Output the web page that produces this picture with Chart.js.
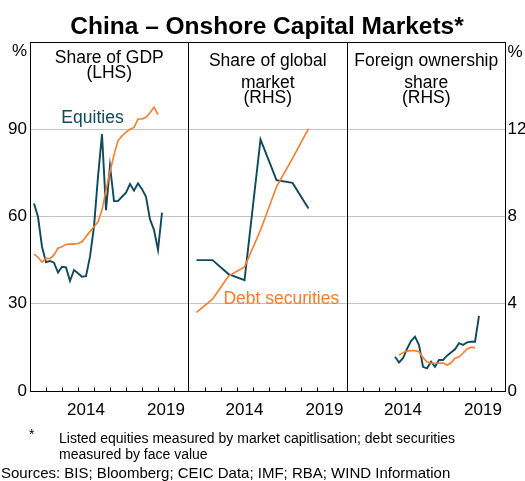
<!DOCTYPE html>
<html>
<head>
<meta charset="utf-8">
<title>China – Onshore Capital Markets</title>
<script src="https://cdn.jsdelivr.net/npm/chart.js@4.4.1/dist/chart.umd.min.js"></script>
<style>
  html, body { margin: 0; padding: 0; background: #ffffff; }
  #wrap { width: 525px; height: 481px; position: relative; }
</style>
</head>
<body>
<div id="wrap"><canvas id="chart" width="525" height="481"></canvas></div>
<script>
// ---- data -------------------------------------------------------------
const PANEL_START = 2011;      // each panel runs from Jan 2011 ...
const PANEL_SPAN = 9.906;      // ... to late 2020 (years)
const X_LABEL_YEARS = [2014, 2019];
const X_TICK_YEARS = [2012, 2013, 2014, 2015, 2016, 2017, 2018, 2019, 2020];
const LHS_TICKS = [0, 30, 60, 90];
const RHS_TICKS = [0, 4, 8, 12];

// Panel 1: share of GDP (%), quarterly
const gdpEquitiesQuarters = ['2011Q1', '2019Q1'];
const gdpEquities = [64.5, 59.9, 49.6, 44.3, 44.7, 44.1, 40.7, 42.7, 42.5, 37.8, 41.6,
  40.5, 39.3, 39.5, 46.2, 56.5, 73.7, 88.3, 62.2, 77.4, 65.3, 65.3, 66.8, 68.2, 71.2,
  68.9, 71.4, 69.4, 66.8, 59.0, 55.4, 48.5, 61.3];
const gdpDebtQuarters = ['2011Q1', '2018Q4'];
const gdpDebt = [47.1, 46.0, 44.3, 45.7, 45.5, 46.8, 49.1, 49.6, 50.4, 50.5, 50.5,
  50.7, 51.3, 53.1, 54.8, 56.5, 58.2, 62.2, 69.1, 75.4, 81.2, 86.1, 87.7, 89.0, 90.0,
  90.6, 93.5, 93.5, 94.1, 95.7, 97.6, 95.0];

// Panel 2: share of global market (%), annual
const globalYears = [2011, 2012, 2013, 2014, 2015, 2016, 2017, 2018];
const globalEquities = [6.0, 6.0, 5.36, 5.08, 11.53, 9.67, 9.54, 8.37];
const globalDebt = [3.6, 4.21, 5.27, 5.69, 7.37, 9.36, 10.66, 12.03];

// Panel 3: foreign ownership share (%), quarterly
const foreignEquitiesQuarters = ['2013Q4', '2019Q1'];
const foreignEquities = [1.57, 1.31, 1.50, 1.93, 2.29, 2.49, 2.11, 1.11, 1.04, 1.34, 1.11,
  1.42, 1.42, 1.62, 1.76, 1.91, 2.19, 2.11, 2.23, 2.26, 2.26, 3.44];
const foreignDebtQuarters = ['2014Q1', '2018Q4'];
const foreignDebt = [1.65, 1.76, 1.83, 1.85, 1.85, 1.80, 1.53, 1.34, 1.27, 1.27, 1.27,
  1.28, 1.19, 1.28, 1.50, 1.57, 1.73, 1.93, 2.00, 1.99];

// ---- helpers ----------------------------------------------------------
const FONT = '"Liberation Sans", Arial, Helvetica, sans-serif';
const TEAL = '#0d4a5c';
const ORANGE = '#ff7a26';
const GRID = '#c4c4c4';

// quarter label -> decimal year at the end of the quarter
function quarterEnd(q) {
  const y = parseInt(q.slice(0, 4), 10);
  const n = parseInt(q.slice(5), 10);
  return y + n / 4;
}
// panel-relative x position of a date
function panelX(date, panel) {
  return (date - PANEL_START) + panel * PANEL_SPAN;
}
function quarterlyPoints(range, values, panel) {
  const start = quarterEnd(range[0]);
  return values.map((v, i) => ({ x: panelX(start + i * 0.25, panel), y: v }));
}
function annualPoints(years, values, panel) {
  return values.map((v, i) => ({ x: panelX(years[i] + 0.5, panel), y: v }));
}

function series(data, color, width, axis) {
  return {
    data, yAxisID: axis, borderColor: color, backgroundColor: color,
    borderWidth: width, pointRadius: 0, tension: 0, fill: false, spanGaps: false
  };
}

const datasets = [
  series(quarterlyPoints(gdpDebtQuarters, gdpDebt, 0), ORANGE, 1.6, 'yL'),
  series(quarterlyPoints(gdpEquitiesQuarters, gdpEquities, 0), TEAL, 1.9, 'yL'),
  series(annualPoints(globalYears, globalDebt, 1), ORANGE, 1.6, 'yR'),
  series(annualPoints(globalYears, globalEquities, 1), TEAL, 1.9, 'yR'),
  series(quarterlyPoints(foreignDebtQuarters, foreignDebt, 2), ORANGE, 1.6, 'yR'),
  series(quarterlyPoints(foreignEquitiesQuarters, foreignEquities, 2), TEAL, 1.9, 'yR')
];

// frame, panel dividers, inward year ticks and annotation text
const panelDecor = {
  id: 'panelDecor',
  afterDatasetsDraw(chart) {
    const { ctx, chartArea: ca, scales } = chart;
    const xs = scales.x;
    const L = Math.floor(ca.left) + 0.5, R = Math.floor(ca.right) + 0.5;
    const T = Math.floor(ca.top) + 0.5, B = Math.floor(ca.bottom) + 0.5;
    ctx.save();
    ctx.strokeStyle = '#000';
    ctx.lineWidth = 1;
    ctx.strokeRect(L, T, R - L, B - T);
    ctx.beginPath();
    for (let p = 1; p < 3; p++) {
      const x = Math.floor(xs.getPixelForValue(p * PANEL_SPAN)) + 0.5;
      ctx.moveTo(x, T); ctx.lineTo(x, B);
    }
    for (let p = 0; p < 3; p++) {
      X_TICK_YEARS.forEach(y => {
        const x = Math.round(xs.getPixelForValue(panelX(y, p))) + 0.5;
        ctx.moveTo(x, B); ctx.lineTo(x, B - 4);
      });
    }
    ctx.stroke();

    const text = (s, x, y, opts = {}) => {
      ctx.font = (opts.weight || '') + ' ' + (opts.size || 17.5) + 'px ' + FONT;
      ctx.fillStyle = opts.color || '#000';
      ctx.textAlign = opts.align || 'center';
      ctx.textBaseline = 'alphabetic';
      ctx.fillText(s, x, y);
    };
    const cx = p => (xs.getPixelForValue(p * PANEL_SPAN) + xs.getPixelForValue((p + 1) * PANEL_SPAN)) / 2;

    text('China – Onshore Capital Markets*', 267, 34, { weight: 'bold', size: 24.5 });
    text('%', 19.5, 55.5, { size: 17 });
    text('%', 515, 56.5, { size: 17 });

    text('Share of GDP', cx(0), 63);
    text('(LHS)', cx(0), 78);
    text('Share of global', cx(1), 66);
    text('market', cx(1), 88);
    text('(RHS)', cx(1), 102.5);
    text('Foreign ownership', cx(2), 66);
    text('share', cx(2), 88);
    text('(RHS)', cx(2), 102.5);

    text('Equities', 92.5, 122.5, { color: TEAL });
    text('Debt securities', 281.3, 303.5, { color: ORANGE });

    text('*', 29, 439, { size: 14, align: 'left' });
    text('Listed equities measured by market capitlisation; debt securities', 59, 443, { size: 14, align: 'left' });
    text('measured by face value', 59, 459, { size: 14, align: 'left' });
    text('Sources: BIS; Bloomberg; CEIC Data; IMF; RBA; WIND Information', 1, 478, { size: 15, align: 'left' });
    ctx.restore();
  }
};

const tickFont = { family: FONT, size: 17 };

new Chart(document.getElementById('chart'), {
  type: 'line',
  data: { datasets },
  options: {
    responsive: false,
    animation: false,
    devicePixelRatio: 1,
    layout: { padding: { top: 42, left: 0, right: 0, bottom: 0 } },
    plugins: { legend: { display: false }, tooltip: { enabled: false }, title: { display: false } },
    scales: {
      x: {
        type: 'linear', position: 'bottom', min: 0, max: 3 * PANEL_SPAN,
        grid: { display: false, drawTicks: false },
        border: { display: false },
        afterBuildTicks(scale) {
          const t = [];
          for (let p = 0; p < 3; p++) X_LABEL_YEARS.forEach(y => t.push({ value: panelX(y + 0.5, p) }));
          scale.ticks = t;
        },
        ticks: {
          autoSkip: false, maxRotation: 0, padding: 9, color: '#000', font: tickFont,
          callback(value) {
            const within = ((value % PANEL_SPAN) + PANEL_SPAN) % PANEL_SPAN;
            return String(Math.floor(PANEL_START + within + 1e-6));
          }
        },
        afterFit(scale) { scale.height = 90; }
      },
      yL: {
        type: 'linear', position: 'left', min: 0, max: 120,
        grid: { color: GRID, lineWidth: 1, drawTicks: false },
        border: { display: false },
        afterBuildTicks(scale) { scale.ticks = LHS_TICKS.concat([120]).map(v => ({ value: v })); },
        ticks: {
          padding: 3, color: '#000', font: tickFont,
          callback: v => (LHS_TICKS.includes(v) ? String(v) : '')
        },
        afterFit(scale) { scale.width = 30; }
      },
      yR: {
        type: 'linear', position: 'right', min: 0, max: 16,
        grid: { display: false, drawTicks: false },
        border: { display: false },
        afterBuildTicks(scale) { scale.ticks = RHS_TICKS.map(v => ({ value: v })); },
        ticks: { padding: 2, color: '#000', font: tickFont, align: 'center', crossAlign: 'near' },
        afterFit(scale) { scale.width = 19.5; }
      }
    }
  },
  plugins: [panelDecor]
});
</script>
</body>
</html>
